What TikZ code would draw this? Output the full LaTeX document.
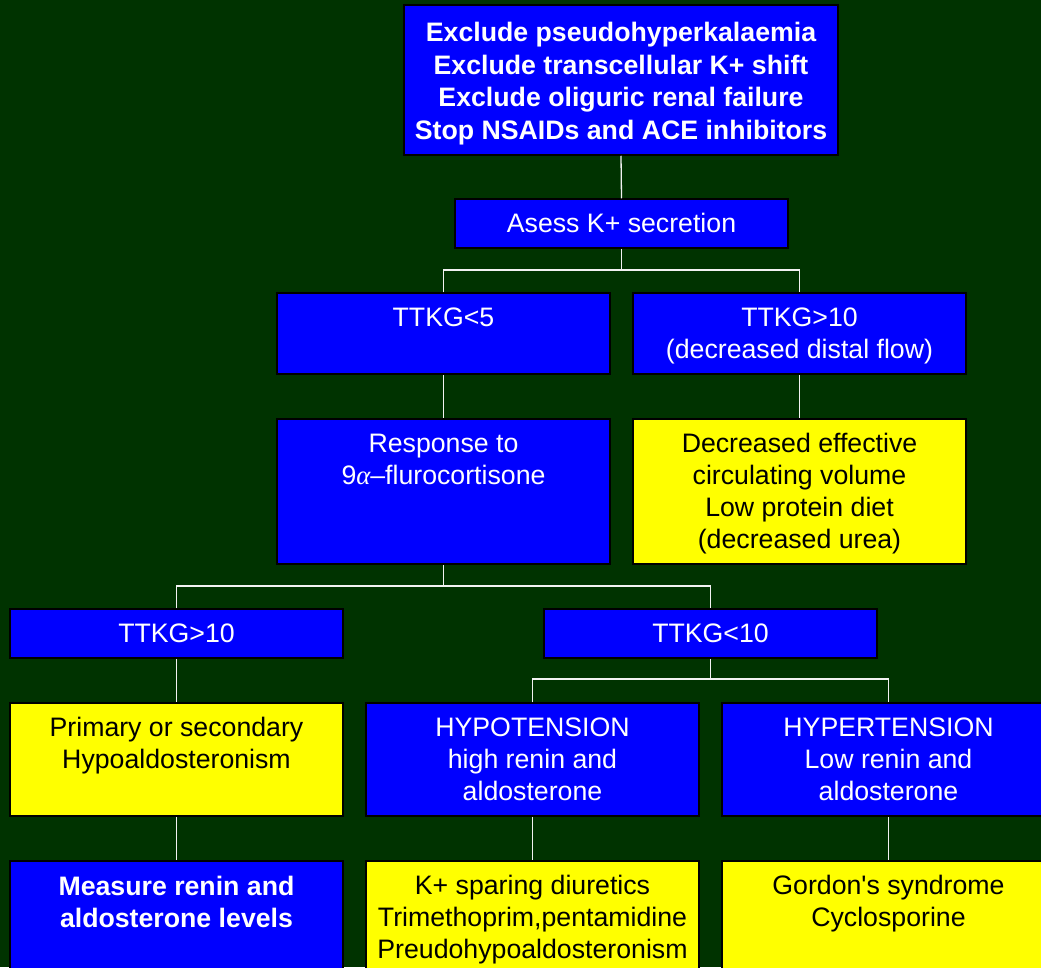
\documentclass[tikz,border=0pt]{standalone}
\usepackage{fontspec}
\setmainfont{Liberation Sans}
\newfontfamily\greekserif{Liberation Serif}
\definecolor{bg}{RGB}{0,51,0}
\definecolor{boxblue}{RGB}{0,0,255}
\definecolor{boxyellow}{RGB}{255,255,0}
\newcommand\boxtxt[4]{\parbox[c][#2][t]{#1}{\centering\vspace*{#3}\strut #4\par}}
\tikzset{
  basebox/.style={draw=black, line width=1.5pt, inner sep=0pt, font=\fontsize{26.7}{32}\selectfont},
  bluebox/.style={basebox, fill=boxblue, text=white},
  yellowbox/.style={basebox, fill=boxyellow, text=black},
  boldtext/.style={font=\fontsize{26.7}{32.7}\selectfont\bfseries},
  conn/.style={draw=white!90!gray, line width=1.3pt}
}
\begin{document}
\begin{tikzpicture}[x=1pt,y=-1pt]
\useasboundingbox (0,0) rectangle (1041,967);
\fill[bg] (0,0) rectangle (1041,967);

% row 0
\node[bluebox, boldtext] (top) at (621,80) {\boxtxt{434pt}{150pt}{13.7pt}{Exclude pseudohyperkalaemia\\Exclude transcellular K+ shift\\Exclude oliguric renal failure\\Stop NSAIDs and ACE inhibitors}};
\node[bluebox] (asess) at (621.5,223.5) {\boxtxt{333pt}{49pt}{11.2pt}{Asess K+ secretion}};
% row 1
\node[bluebox] (ttkg5) at (443.5,333.5) {\boxtxt{333pt}{81pt}{11.2pt}{TTKG<5}};
\node[bluebox] (ttkg10a) at (799.5,333.5) {\boxtxt{333pt}{81pt}{11.2pt}{TTKG>10\\(decreased distal flow)}};
% row 2
\node[bluebox] (resp) at (443.5,491.5) {\boxtxt{333pt}{145pt}{11.2pt}{Response to\\9{\greekserif\itshape α}–flurocortisone}};
\node[yellowbox] (decr) at (799.5,491.5) {\boxtxt{333pt}{145pt}{11.2pt}{Decreased effective\\circulating volume\\Low protein diet\\(decreased urea)}};
% row 3
\node[bluebox] (ttkg10b) at (176.5,633.5) {\boxtxt{333pt}{49pt}{11.2pt}{TTKG>10}};
\node[bluebox] (ttkgl10) at (710.5,633.5) {\boxtxt{333pt}{49pt}{11.2pt}{TTKG<10}};
% row 4
\node[yellowbox] (prim) at (176.5,759.5) {\boxtxt{333pt}{113pt}{11.2pt}{Primary or secondary\\Hypoaldosteronism}};
\node[bluebox] (hypo) at (532.5,759.5) {\boxtxt{333pt}{113pt}{11.2pt}{HYPOTENSION\\high renin and\\aldosterone}};
\node[bluebox] (hyper) at (888.5,759.5) {\boxtxt{333pt}{113pt}{11.2pt}{HYPERTENSION\\Low renin and\\aldosterone}};
% row 5
\node[bluebox, boldtext] (meas) at (176.5,933.5) {\boxtxt{333pt}{145pt}{11.2pt}{Measure renin and\\aldosterone levels}};
\node[yellowbox] (kspar) at (532.5,933.5) {\boxtxt{333pt}{145pt}{11.2pt}{K+ sparing diuretics\\Trimethoprim,pentamidine\\Preudohypoaldosteronism}};
\node[yellowbox] (gordon) at (888.5,933.5) {\boxtxt{333pt}{145pt}{11.2pt}{Gordon\textquotesingle s syndrome\\Cyclosporine}};

% junctions
\coordinate (j1) at (621.5,270);
\coordinate (j2) at (443.5,586);
\coordinate (j3) at (710.5,679);

% connectors
\draw[conn] (top.south) -- (asess.north);
\draw[conn] (asess.south) -- (j1);
\draw[conn] (ttkg5.north) |- (j1) -| (ttkg10a.north);
\draw[conn] (ttkg5.south) -- (resp.north);
\draw[conn] (ttkg10a.south) -- (decr.north);
\draw[conn] (resp.south) -- (j2);
\draw[conn] (ttkg10b.north) |- (j2) -| (ttkgl10.north);
\draw[conn] (ttkg10b.south) -- (prim.north);
\draw[conn] (prim.south) -- (meas.north);
\draw[conn] (ttkgl10.south) -- (j3);
\draw[conn] (hypo.north) |- (j3) -| (hyper.north);
\draw[conn] (hypo.south) -- (kspar.north);
\draw[conn] (hyper.south) -- (gordon.north);
\end{tikzpicture}
\end{document}
